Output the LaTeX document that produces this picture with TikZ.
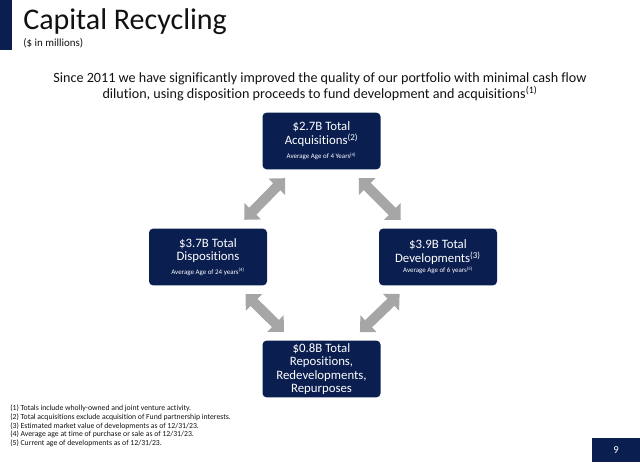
\documentclass[tikz,border=0pt]{standalone}
\usepackage{fontspec}
\setmainfont{Carlito}[Ligatures=NoCommon]
\usepackage{tikz}
\usetikzlibrary{
  arrows.meta,
  positioning,
  calc
}
\definecolor{crNavy}{HTML}{0B1E50}
\definecolor{crGray}{HTML}{A6A6A6}
\definecolor{crInk}{HTML}{111111}
\tikzset{
  crnode/.style={
    draw=none, inner sep=0pt, align=center, text=white, fill=crNavy
  },
  crbox/.style={crnode, rounded corners=3pt, minimum width=88.5pt, minimum height=42.5pt,
    font=\fontsize{9.6}{9.6}\selectfont},
  pagebox/.style={crnode, minimum width=36pt, minimum height=18pt, font=\fontsize{8}{9}\selectfont},
  recycle/.style={{Triangle[width=17pt,length=9pt]}-{Triangle[width=17pt,length=9pt]},
    line width=7.5pt, crGray, shorten <=9pt, shorten >=9pt},
  heading/.style={anchor=base west, inner sep=0pt, text=crInk, font=\fontsize{22.5}{24}\selectfont},
  subhead/.style={anchor=base west, inner sep=0pt, text=crInk, font=\fontsize{8.2}{9}\selectfont},
  lead/.style={anchor=north, inner sep=0pt, align=center, text=crInk, font=\fontsize{10.6}{12.6}\selectfont},
  notes/.style={anchor=north west, inner sep=0pt, align=left, text=crInk, font=\fontsize{5.8}{6.5}\selectfont}
}
\newcommand{\agenote}[1]{{\fontsize{5.2}{6}\selectfont #1}}

\begin{document}
\begin{tikzpicture}[x=0.75pt, y=-0.75pt]
  \useasboundingbox (0,0) rectangle (640,466);
  \fill[crNavy] (0,0) rectangle (12,50);
  \node[heading] (title) at (23,30) {Capital Recycling};
  \node[subhead] (units) at (23,47) {(\$ in millions)};
  \node[lead] (intro) at (320,72) {Since 2011 we have significantly improved the quality of our portfolio with minimal cash flow\\
    dilution, using disposition proceeds to fund development and acquisitions\textsuperscript{(1)}};

  \node[crbox] (acq) at (321.5,141) {\$2.7B Total\\ Acquisitions\textsuperscript{(2)}\\[1pt] \agenote{Average Age of 4 Years\textsuperscript{(4)}}};
  \node[crbox] (disp) at (208,257) {\$3.7B Total\\ Dispositions\\[1pt] \agenote{Average Age of 24 years\textsuperscript{(4)}}};
  \node[crbox] (dev) at (438,257) {\$3.9B Total\\ Developments\textsuperscript{(3)}\\[-2pt] \agenote{Average Age of 6 years\textsuperscript{(5)}}};
  \node[crbox, font=\fontsize{9.6}{10}\selectfont] (redev) at (321.5,369) {\$0.8B Total\\ Repositions,\\ Redevelopments,\\ Repurposes};

  \draw[recycle] (acq) -- (disp);
  \draw[recycle] (acq) -- (dev);
  \draw[recycle] (disp) -- (redev);
  \draw[recycle] (dev) -- (redev);

  \node[notes] (footnotes) at (10,405) {(1) Totals include wholly-owned and joint venture activity.\\
    (2) Total acquisitions exclude acquisition of Fund partnership interests.\\
    (3) Estimated market value of developments as of 12/31/23.\\
    (4) Average age at time of purchase or sale as of 12/31/23.\\
    (5) Current age of developments as of 12/31/23.};
  \node[pagebox] (page) at (616,450) {9};
\end{tikzpicture}
\end{document}
